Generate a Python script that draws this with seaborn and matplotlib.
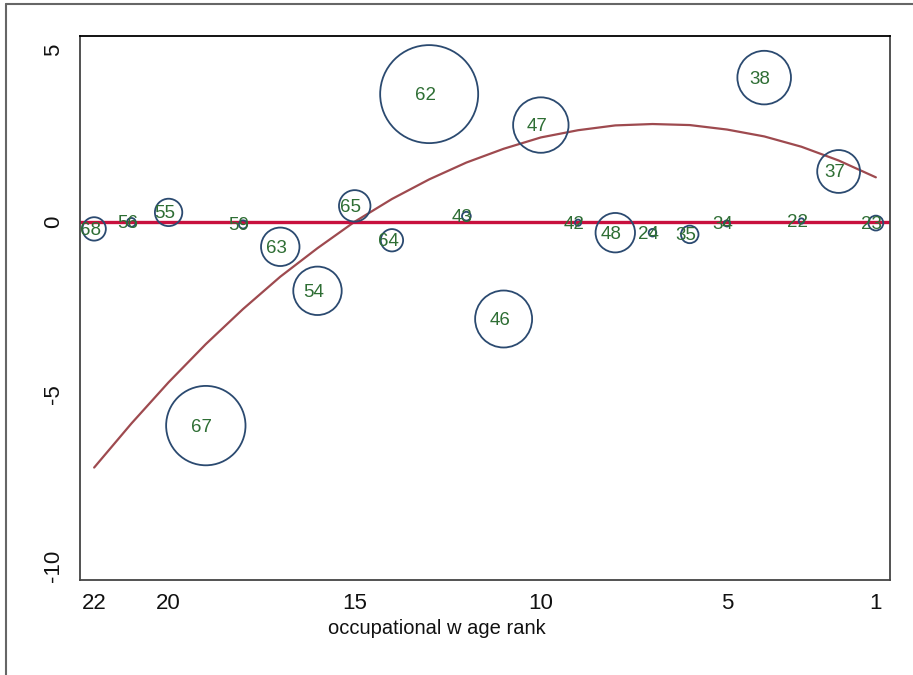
import numpy as np
import pandas as pd
import seaborn as sns
import matplotlib
matplotlib.use("Agg")
import matplotlib.pyplot as plt
from matplotlib.lines import Line2D

# Occupation codes, their wage rank, the estimated effect and the employment weight
occ_code = ["68", "56", "55", "67", "59", "63", "54", "65", "64", "62", "43",
            "46", "47", "42", "48", "24", "35", "34", "38", "22", "37", "23"]
wage_rank = [22, 21, 20, 19, 18, 17, 16, 15, 14, 13, 12,
             11, 10, 9, 8, 7, 6, 5, 4, 3, 2, 1]
effect = [-0.20, -0.01, 0.28, -5.92, -0.07, -0.72, -2.00, 0.47, -0.53, 3.72, 0.17,
          -2.82, 2.82, -0.02, -0.31, -0.31, -0.36, -0.04, 4.20, 0.03, 1.47, -0.03]
emp_weight = [0.57, 0.08, 0.78, 6.56, 0.07, 1.54, 2.44, 1.03, 0.52, 10.0, 0.08,
              3.38, 3.20, 0.04, 1.62, 0.06, 0.32, 0.04, 2.99, 0.03, 1.91, 0.23]

# Quadratic fit of effect on wage rank
fit_rank = [22, 21, 20, 19, 18, 17, 16, 15, 14, 13, 12,
            11, 10, 9, 8, 7, 6, 5, 4, 3, 2, 1]
fit_value = [-7.14, -5.86, -4.66, -3.55, -2.53, -1.59, -0.76, 0.01, 0.67, 1.24, 1.73,
             2.13, 2.46, 2.67, 2.81, 2.85, 2.82, 2.69, 2.49, 2.19, 1.79, 1.30]

x_ticks = [22, 20, 15, 10, 5, 1]
y_ticks = [5, 0, -5, -10]

df = pd.DataFrame({"rank": wage_rank, "effect": effect,
                   "weight": emp_weight, "code": occ_code})
fit = pd.DataFrame({"rank": fit_rank, "value": fit_value})

sns.set_theme(style="white")
plt.rcParams["font.family"] = ["Liberation Sans", "DejaVu Sans"]

fig = plt.figure(figsize=(9.13, 6.75), dpi=100)
ax = fig.add_axes([80 / 913, 1 - 580 / 675, 810 / 913, 544 / 675])

navy = "#2b4a70"
maroon = "#9e4a4f"
crimson = "#c8103e"
label_green = "#2e6e34"

sns.scatterplot(data=df, x="rank", y="effect", size="weight",
                sizes=(0, 4980), size_norm=(0, 10), legend=False,
                facecolors="none", edgecolor=navy, linewidth=1.3,
                ax=ax, zorder=3)

sns.lineplot(data=fit, x="rank", y="value", color=maroon, linewidth=1.6,
             ax=ax, zorder=2)

ax.axhline(0, color=crimson, linewidth=2.4, zorder=2.5)

for r, e, c in zip(df["rank"], df["effect"], df["code"]):
    ax.annotate(c, (r, e), xytext=(-4, -1.5), textcoords="offset pixels",
                ha="center", va="center", fontsize=13.5, color=label_green,
                zorder=4)

ax.set_xlim(22.38, 0.62)
ax.set_ylim(-10.41, 5.41)
ax.set_xticks(x_ticks)
ax.set_xticklabels([str(t) for t in x_ticks])
ax.set_yticks(y_ticks)
ax.set_yticklabels([str(t) for t in y_ticks], rotation=90, va="center")
ax.tick_params(axis="both", direction="out", length=7.2, width=1.0,
               color="#222222", labelsize=16, labelcolor="#111111")
ax.tick_params(axis="x", pad=2)
ax.tick_params(axis="y", pad=4)
ax.set_xlabel("")
ax.set_ylabel("")
ax.grid(False)

for side, sp in ax.spines.items():
    sp.set_visible(True)
    sp.set_linewidth(1.3)
    sp.set_color("#444444")
ax.spines["top"].set_color("#000000")

fig.text(437 / 913, 1 - 629 / 675, "occupational w age rank", ha="center",
         va="center", fontsize=14.5, color="#111111")

# outer graph frame
fig.add_artist(Line2D([6 / 913, 6 / 913], [0, 1 - 4 / 675],
                      transform=fig.transFigure, color="#666666", linewidth=1.5))
fig.add_artist(Line2D([6 / 913, 1], [1 - 4 / 675, 1 - 4 / 675],
                      transform=fig.transFigure, color="#666666", linewidth=1.5))

fig.savefig("out.png", dpi=100, facecolor="white")
